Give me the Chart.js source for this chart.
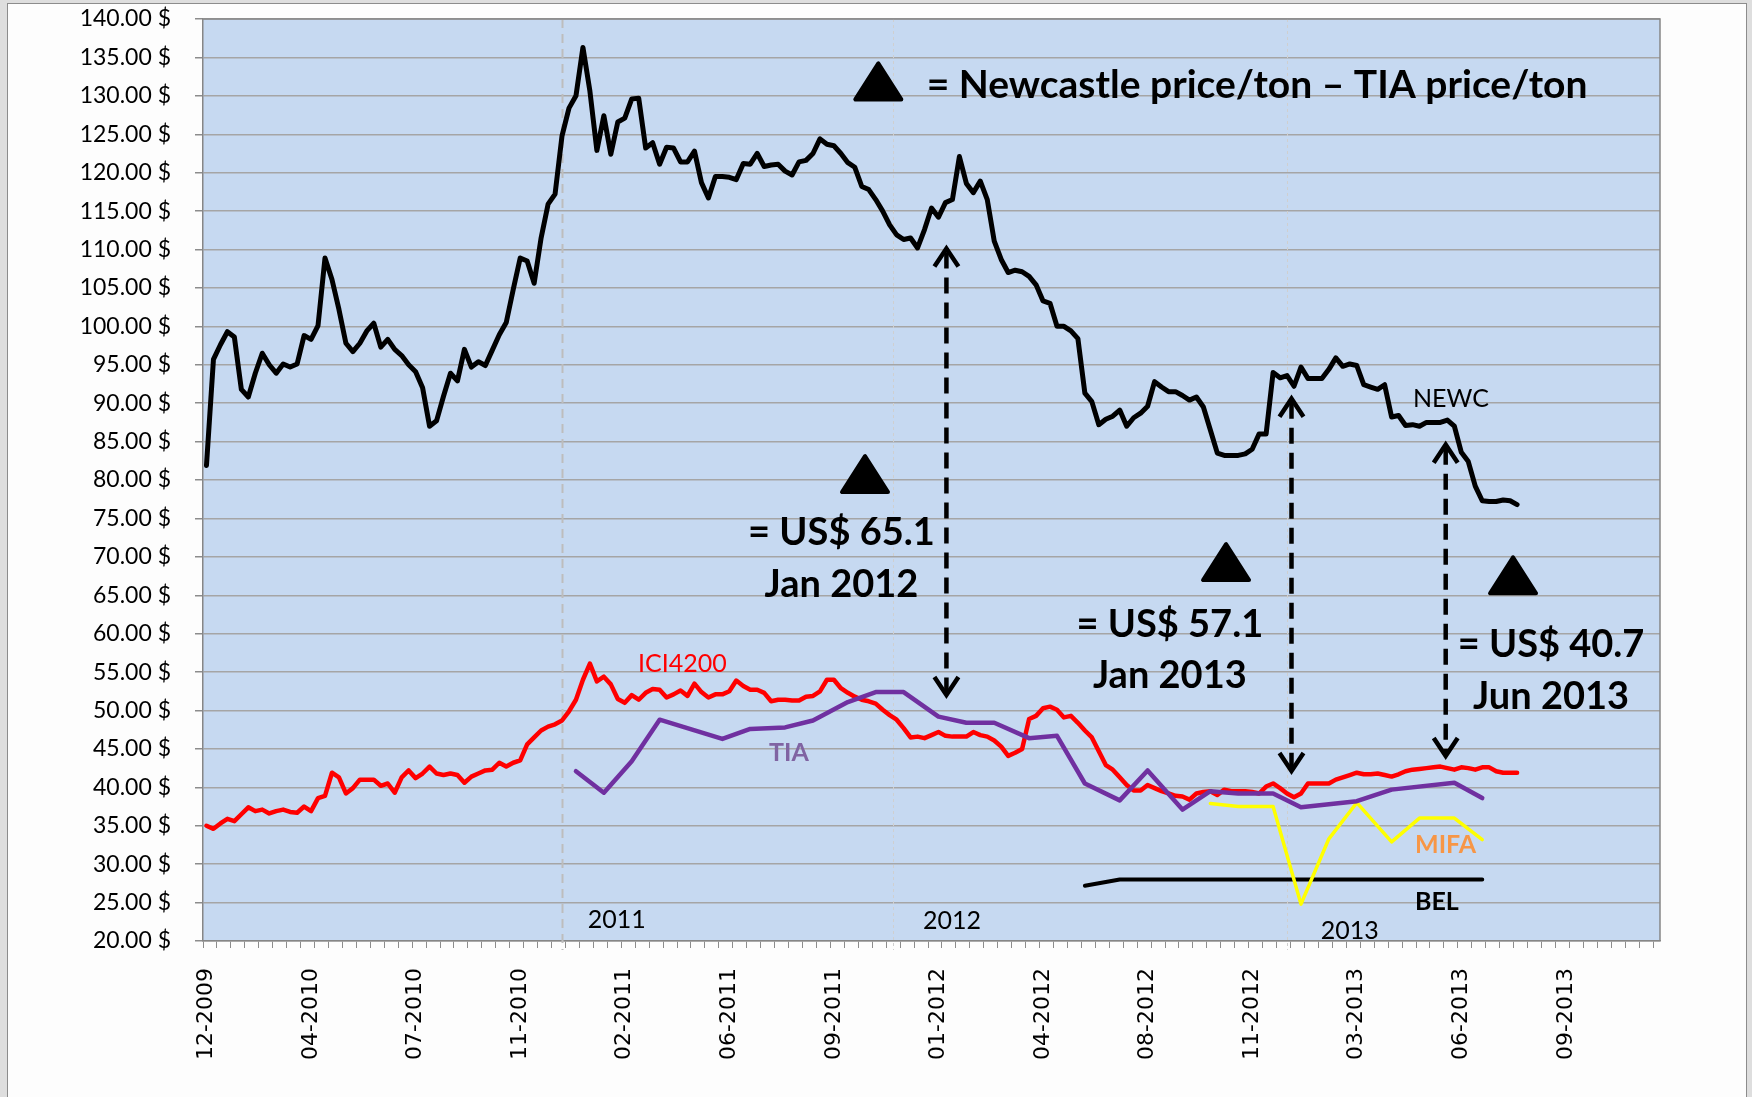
<!DOCTYPE html>
<html>
<head>
<meta charset="utf-8">
<script src="https://cdn.jsdelivr.net/npm/chart.js@4.4.1/dist/chart.umd.min.js"></script>
<style>
  html, body { margin: 0; padding: 0; background: #dedede; overflow: hidden; }
  #sheet { position: absolute; left: 7px; top: 3px; width: 1740px; height: 1120px;
           background: #fdfdfd; border: 1px solid #8c8c8c; box-sizing: border-box; }
  #chart { position: absolute; left: 0; top: 0; }
</style>
</head>
<body>
<div id="sheet"></div>
<canvas id="chart" width="1752" height="1097"></canvas>
<script>
// weekly categories, week 0 = first week of 12-2009
const newcPrices = [
  81.9, 95.7, 97.6, 99.3, 98.6, 91.8, 90.8, 93.9, 96.5, 95.0,
  93.9, 95.1, 94.7, 95.1, 98.8, 98.3, 100.1, 108.9, 106.1, 102.2,
  97.8, 96.7, 97.8, 99.4, 100.4, 97.3, 98.3, 97.0, 96.2, 95.0,
  94.1, 92.0, 87.0, 87.7, 90.9, 93.9, 92.9, 97.0, 94.7, 95.4,
  94.9, 96.9, 98.9, 100.5, 104.8, 108.9, 108.5, 105.6, 111.5, 115.9,
  117.2, 124.8, 128.4, 130.0, 136.3, 130.6, 122.9, 127.4, 122.4, 126.6,
  127.1, 129.6, 129.7, 123.2, 123.9, 121.1, 123.3, 123.2, 121.4, 121.4,
  122.8, 118.7, 116.7, 119.5, 119.5, 119.4, 119.1, 121.2, 121.1, 122.5,
  120.8, 121.0, 121.1, 120.2, 119.7, 121.4, 121.6, 122.5, 124.4, 123.7,
  123.5, 122.5, 121.3, 120.7, 118.2, 117.8, 116.5, 115.0, 113.2, 111.9,
  111.3, 111.5, 110.2, 112.6, 115.4, 114.2, 116.1, 116.5, 122.1, 118.6,
  117.4, 118.9, 116.5, 111.1, 108.7, 107.0, 107.3, 107.1, 106.5, 105.4,
  103.3, 103.0, 100.0, 100.0, 99.4, 98.4, 91.3, 90.2, 87.2, 87.9,
  88.3, 89.1, 87.0, 88.1, 88.7, 89.6, 92.8, 92.1, 91.5, 91.5,
  91.0, 90.4, 90.8, 89.5, 86.5, 83.5, 83.2, 83.2, 83.2, 83.4,
  84.0, 86.0, 86.0, 94.0, 93.3, 93.6, 92.2, 94.7, 93.2, 93.2,
  93.2, 94.4, 95.9, 94.8, 95.1, 94.9, 92.4, 92.1, 91.8, 92.4,
  88.2, 88.4, 87.1, 87.2, 87.0, 87.5, 87.5, 87.5, 87.8, 87.0,
  83.6, 82.4, 79.2, 77.3, 77.2, 77.2, 77.4, 77.3, 76.8
];
const ici4200Prices = [
  35.0, 34.6, 35.3, 35.9, 35.6, 36.5, 37.4, 36.9, 37.1, 36.6,
  36.9, 37.1, 36.8, 36.7, 37.5, 36.9, 38.6, 38.9, 41.9, 41.3,
  39.2, 39.9, 41.0, 41.0, 41.0, 40.2, 40.5, 39.3, 41.3, 42.2,
  41.2, 41.8, 42.7, 41.8, 41.6, 41.8, 41.6, 40.6, 41.4, 41.8,
  42.2, 42.3, 43.2, 42.7, 43.2, 43.5, 45.6, 46.5, 47.4, 47.9,
  48.2, 48.7, 49.9, 51.4, 54.0, 56.1, 53.8, 54.4, 53.4, 51.5,
  51.0, 52.0, 51.4, 52.3, 52.8, 52.7, 51.7, 52.1, 52.6, 51.9,
  53.5, 52.4, 51.7, 52.1, 52.1, 52.5, 53.9, 53.2, 52.7, 52.7,
  52.3, 51.2, 51.4, 51.4, 51.3, 51.3, 51.8, 51.9, 52.5, 54.0,
  54.0, 52.9, 52.3, 51.8, 51.4, 51.2, 50.9, 50.1, 49.4, 48.8,
  47.7, 46.5, 46.6, 46.4, 46.8, 47.2, 46.7, 46.6, 46.6, 46.6,
  47.2, 46.8, 46.6, 46.1, 45.3, 44.1, 44.5, 45.0, 48.9, 49.3,
  50.3, 50.5, 50.1, 49.1, 49.3, 48.4, 47.4, 46.5, 44.7, 42.9,
  42.3, 41.3, 40.3, 39.6, 39.6, 40.3, 39.9, 39.5, 39.2, 38.9,
  38.8, 38.4, 39.2, 39.4, 39.5, 39.0, 39.7, 39.5, 39.5, 39.5,
  39.4, 39.2, 40.1, 40.5, 39.9, 39.2, 38.7, 39.2, 40.5, 40.5,
  40.5, 40.5, 41.0, 41.3, 41.6, 41.9, 41.7, 41.7, 41.8, 41.6,
  41.4, 41.7, 42.1, 42.3, 42.4, 42.5, 42.6, 42.7, 42.5, 42.3,
  42.6, 42.5, 42.3, 42.6, 42.6, 42.1, 41.9, 41.9, 41.9
];
const tiaWeeks = [53, 57, 61, 65, 74, 78, 83, 87, 92, 96, 100, 105, 109, 113,
  118, 122, 126, 131, 135, 140, 144, 148, 153, 157, 165, 170, 179, 183];
const tiaPrices = [42.1, 39.3, 43.4, 48.8, 46.3, 47.6, 47.8, 48.7, 51.1, 52.4, 52.4, 49.2, 48.4, 48.4,
  46.4, 46.7, 40.5, 38.3, 42.2, 37.1, 39.5, 39.2, 39.2, 37.4, 38.2, 39.7, 40.6, 38.6];
const mifaWeeks = [144, 148, 153, 157, 161, 165, 170, 174, 179, 183];
const mifaPrices = [37.9, 37.5, 37.5, 24.8, 33.3, 38.0, 32.9, 36.0, 36.0, 33.2];
const belWeeks = [126, 131, 135, 140, 144, 148, 153, 157, 165, 170, 179, 183];
const belPrices = [27.2, 28.0, 28.0, 28.0, 28.0, 28.0, 28.0, 28.0, 28.0, 28.0, 28.0, 28.0];

const xLabelWeeks = [0, 15, 30, 45, 60, 75, 90, 105, 120, 135, 150, 165, 180, 195];
const xLabels = ["12-2009", "04-2010", "07-2010", "11-2010", "02-2011", "06-2011", "09-2011",
  "01-2012", "04-2012", "08-2012", "11-2012", "03-2013", "06-2013", "09-2013"];

// annotations, in week / price units
const yearLines = [
  { week: 51, color: "#bdbdbd", width: 2, dash: [9, 6] },
  { week: 98.5, color: "#cfcfcf", width: 1, dash: [3, 3] },
  { week: 155, color: "#cfcfcf", width: 1, dash: [3, 3] },
];
const gapArrows = [
  { week: 106.14, top: 110.38, bottom: 51.77 },
  { week: 155.64, top: 90.85, bottom: 41.87 },
  { week: 177.76, top: 84.86, bottom: 43.83 },
];
const triangles = [
  { week: 96.37, price: 129.27 },
  { week: 94.46, price: 78.17 },
  { week: 146.25, price: 66.71 },
  { week: 187.42, price: 65.0 },
];
const BIG = "bold 38px Lato";
const notes = [
  { text: "= Newcastle price/ton \u2013 TIA price/ton", week: 103.31, price: 129.71, align: "left", font: "bold 39px Lato", color: "#000" },
  { text: "= US$ 65.1", week: 91.08, price: 71.53, align: "center", font: BIG, color: "#000" },
  { text: "Jan 2012", week: 91.08, price: 64.81, align: "center", font: BIG, color: "#000" },
  { text: "= US$ 57.1", week: 138.19, price: 59.55, align: "center", font: BIG, color: "#000" },
  { text: "Jan 2013", week: 138.19, price: 52.9, align: "center", font: BIG, color: "#000" },
  { text: "= US$ 40.7", week: 192.87, price: 56.9, align: "center", font: BIG, color: "#000" },
  { text: "Jun 2013", week: 192.87, price: 50.26, align: "center", font: BIG, color: "#000" },
  { text: "ICI4200", week: 61.9, price: 55.03, align: "left", font: "25px Lato", color: "#ff0000" },
  { text: "TIA", week: 80.69, price: 43.44, align: "left", font: "bold 25px Lato", color: "#8064a2" },
  { text: "NEWC", week: 173.07, price: 89.54, align: "left", font: "25px Lato", color: "#000" },
  { text: "MIFA", week: 173.36, price: 31.51, align: "left", font: "bold 25px Lato", color: "#f79646" },
  { text: "BEL", week: 173.36, price: 24.0, align: "left", font: "bold 25px Lato", color: "#000" },
  { text: "2011", week: 54.68, price: 21.69, align: "left", font: "25px Lato", color: "#000" },
  { text: "2012", week: 102.78, price: 21.61, align: "left", font: "25px Lato", color: "#000" },
  { text: "2013", week: 159.83, price: 20.31, align: "left", font: "25px Lato", color: "#000" },
];

const byWeek = (prices) => prices.map((p, i) => ({ x: i, y: p }));
const pairs = (weeks, prices) => weeks.map((w, i) => ({ x: w, y: prices[i] }));

function drawArrow(ctx, px, top, bottom) {
  ctx.save();
  ctx.strokeStyle = "#000";
  ctx.lineWidth = 4.5;
  ctx.setLineDash([16, 9]);
  ctx.beginPath();
  ctx.moveTo(px, top + 6);
  ctx.lineTo(px, bottom - 6);
  ctx.stroke();
  ctx.setLineDash([]);
  ctx.beginPath();
  ctx.moveTo(px - 12, top + 20);
  ctx.lineTo(px, top + 2);
  ctx.lineTo(px + 12, top + 20);
  ctx.moveTo(px - 12, bottom - 20);
  ctx.lineTo(px, bottom - 2);
  ctx.lineTo(px + 12, bottom - 20);
  ctx.stroke();
  ctx.restore();
}

function drawTriangle(ctx, cx, baseY) {
  ctx.save();
  ctx.fillStyle = "#000";
  ctx.strokeStyle = "#000";
  ctx.lineWidth = 4;
  ctx.lineJoin = "round";
  ctx.beginPath();
  ctx.moveTo(cx, baseY - 38);
  ctx.lineTo(cx - 23, baseY - 2);
  ctx.lineTo(cx + 23, baseY - 2);
  ctx.closePath();
  ctx.fill();
  ctx.stroke();
  ctx.restore();
}

const decor = {
  id: "decor",
  beforeDraw(chart) {
    const { ctx, chartArea: a } = chart;
    ctx.save();
    ctx.fillStyle = "#c6d9f1";
    ctx.fillRect(a.left, a.top, a.right - a.left, a.bottom - a.top);
    ctx.restore();
  },
  beforeDatasetsDraw(chart) {
    const { ctx, chartArea: a, scales: { x } } = chart;
    ctx.save();
    yearLines.forEach((l) => {
      const px = Math.round(x.getPixelForValue(l.week)) + 0.5;
      ctx.strokeStyle = l.color;
      ctx.lineWidth = l.width;
      ctx.setLineDash(l.dash);
      ctx.beginPath();
      ctx.moveTo(px, a.top);
      ctx.lineTo(px, a.bottom + 9);
      ctx.stroke();
    });
    ctx.setLineDash([]);
    ctx.strokeStyle = "#868686";
    ctx.lineWidth = 1.5;
    ctx.beginPath();
    ctx.moveTo(a.left, a.top);
    ctx.lineTo(a.right, a.top);
    ctx.lineTo(a.right, a.bottom);
    ctx.stroke();
    ctx.restore();
  },
  afterDatasetsDraw(chart) {
    const { ctx, scales: { x, y } } = chart;
    gapArrows.forEach((g) =>
      drawArrow(ctx, x.getPixelForValue(g.week), y.getPixelForValue(g.top), y.getPixelForValue(g.bottom)));
    triangles.forEach((t) => drawTriangle(ctx, x.getPixelForValue(t.week), y.getPixelForValue(t.price)));
    ctx.save();
    ctx.textBaseline = "alphabetic";
    notes.forEach((n) => {
      ctx.font = n.font;
      ctx.fillStyle = n.color;
      ctx.textAlign = n.align;
      ctx.fillText(n.text, x.getPixelForValue(n.week), y.getPixelForValue(n.price));
    });
    ctx.restore();
  },
};

// keep the plot rectangle where the reference has it
const noOverflow = (scale) => {
  scale.paddingTop = 0;
  scale.paddingBottom = 0;
  scale.paddingLeft = 0;
  scale.paddingRight = 0;
};

function build() {
  const ctx = document.getElementById("chart");
  // eslint-disable-next-line no-unused-vars
  const myChart = new Chart(ctx, {
    type: "line",
    data: {
      datasets: [
        { label: "NEWC", data: byWeek(newcPrices), borderColor: "#000000", borderWidth: 5 },
        { label: "TIA", data: pairs(tiaWeeks, tiaPrices), borderColor: "#7030a0", borderWidth: 4.5 },
        { label: "MIFA", data: pairs(mifaWeeks, mifaPrices), borderColor: "#ffff00", borderWidth: 3.5 },
        { label: "BEL", data: pairs(belWeeks, belPrices), borderColor: "#000000", borderWidth: 4 },
        { label: "ICI4200", data: byWeek(ici4200Prices), borderColor: "#ff0000", borderWidth: 4.5 },
      ].map((d) => ({ ...d, pointRadius: 0, tension: 0, fill: false,
        borderJoinStyle: "round", borderCapStyle: "round" })),
    },
    options: {
      responsive: false,
      animation: false,
      devicePixelRatio: 1,
      layout: { padding: { left: 0, top: 19, right: 92, bottom: 0 } },
      plugins: { legend: { display: false }, tooltip: { enabled: false } },
      scales: {
        x: {
          type: "linear",
          min: -0.5,
          max: 208.5,
          afterFit: (scale) => { scale.height = 156; noOverflow(scale); },
          afterBuildTicks: (scale) => {
            const vals = new Set(xLabelWeeks);
            for (let w = -0.5; w <= 208.5; w += 2) vals.add(w);
            scale.ticks = [...vals].sort((a, b) => a - b).map((v) => ({ value: v }));
          },
          grid: {
            drawOnChartArea: false,
            drawTicks: true,
            tickLength: 7,
            tickWidth: 1,
            tickColor: (c) => (c.tick && xLabelWeeks.includes(c.tick.value) ? "rgba(0,0,0,0)" : "#8c8c8c"),
          },
          border: { display: true, color: "#868686", width: 1.5 },
          ticks: {
            autoSkip: false,
            maxRotation: 90,
            minRotation: 90,
            padding: 20,
            color: "#000",
            font: { family: "'DejaVu Sans'", size: 22 },
            callback: (v) => {
              const i = xLabelWeeks.indexOf(v);
              return i >= 0 ? xLabels[i] : "";
            },
          },
        },
        y: {
          min: 20,
          max: 140,
          afterFit: (scale) => { scale.width = 203; noOverflow(scale); },
          grid: { color: "#a5a5a5", lineWidth: 1.5, tickLength: 8, tickColor: "#8c8c8c", tickWidth: 1.5 },
          border: { display: true, color: "#868686", width: 1.5 },
          ticks: {
            stepSize: 5,
            autoSkip: false,
            maxTicksLimit: 40,
            padding: 24,
            color: "#000",
            font: { family: "Lato", size: 23 },
            callback: (v) => v.toFixed(2) + " $",
          },
        },
      },
    },
    plugins: [decor],
  });
}

Promise.all([
  document.fonts.load("bold 38px Lato"),
  document.fonts.load("25px Lato"),
  document.fonts.load('20px "DejaVu Sans"'),
]).then(build, build);
</script>
</body>
</html>
